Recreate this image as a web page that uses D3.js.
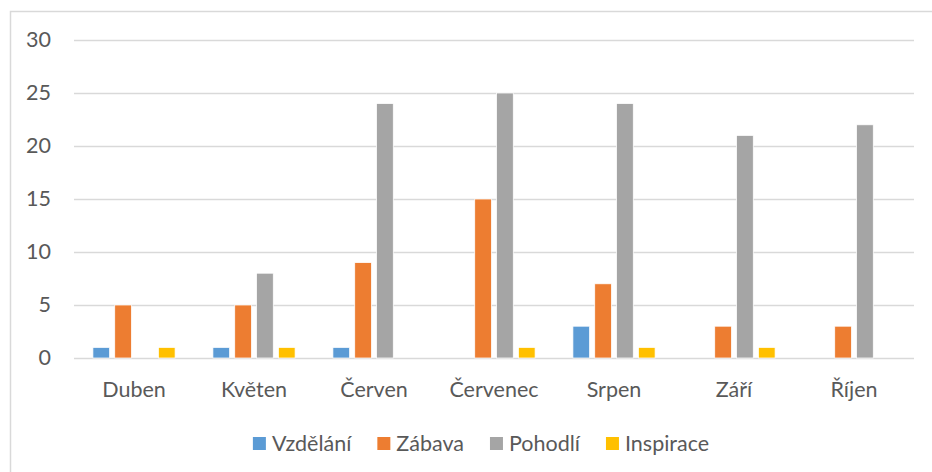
<!DOCTYPE html>
<html>
<head>
<meta charset="utf-8">
<script src="https://cdn.jsdelivr.net/npm/d3@7"></script>
<style>
  body { margin: 0; background: #fff; }
  text { font-family: Lato, "Open Sans", sans-serif; fill: #595959; }
</style>
</head>
<body>
<svg class="chart"></svg>
<script>
// chart data
var months = ['Duben', 'Květen', 'Červen', 'Červenec', 'Srpen', 'Září', 'Říjen']
var series = ['Vzdělání', 'Zábava', 'Pohodlí', 'Inspirace']
var vzdelani  = [1, 1, 1, 0, 3, 0, 0]
var zabava    = [5, 5, 9, 15, 7, 3, 3]
var pohodli   = [0, 8, 24, 25, 24, 21, 22]
var inspirace = [1, 1, 0, 1, 1, 1, 0]
var yTicks = [0, 5, 10, 15, 20, 25, 30]
var colors = ['#5B9BD5', '#ED7D31', '#A5A5A5', '#FFC000']

var values = [vzdelani, zabava, pohodli, inspirace]

var width = 932, height = 472
var margin = { top: 40, right: 18, bottom: 114, left: 74 }
var innerW = width - margin.left - margin.right
var innerH = height - margin.top - margin.bottom
var fontSize = 21.5

var svg = d3.select('.chart')
    .attr('width', width)
    .attr('height', height)

// outer frame
svg.append('rect')
    .attr('x', 10.5)
    .attr('y', 11.5)
    .attr('width', 930)
    .attr('height', 470)
    .attr('fill', 'none')
    .attr('stroke', '#d9d9d9')
    .attr('stroke-width', 1.5)

var chart = svg.append('g')
    .attr('transform', `translate(${margin.left}, ${margin.top})`)

var y = d3.scaleLinear()
    .domain([0, 30])
    .range([innerH, 0])

var x0 = d3.scaleBand()
    .domain(months)
    .range([0, innerW])

var groupW = x0.bandwidth() * 0.685
var x1 = d3.scaleBand()
    .domain(series)
    .range([(x0.bandwidth() - groupW) / 2, (x0.bandwidth() + groupW) / 2])
    .paddingInner(0.234)

// gridlines
chart.selectAll('.grid')
    .data(yTicks)
  .enter().append('line')
    .attr('x1', 0)
    .attr('x2', innerW)
    .attr('y1', function(d) { return Math.round(y(d)) + 0.5 })
    .attr('y2', function(d) { return Math.round(y(d)) + 0.5 })
    .attr('stroke', '#d9d9d9')
    .attr('stroke-width', 1.5)

// y labels
var yAxis = d3.axisLeft(y).tickValues(yTicks).tickSize(0).tickPadding(23)
chart.append('g')
    .call(yAxis)
    .call(function(g) { g.select('.domain').remove() })
    .selectAll('text')
    .attr('font-size', fontSize)
    .attr('font-family', 'Lato, "Open Sans", sans-serif')
    .attr('fill', '#595959')

// bars
var groups = chart.selectAll('.bar')
    .data(months)
  .enter().append('g')
    .attr('class', 'bar')
    .attr('transform', function(d) { return `translate(${x0(d)}, 0)` })

groups.selectAll('rect')
    .data(function(m, i) { return series.map(function(s, j) { return { s: s, v: values[j][i], c: colors[j] } }) })
  .enter().append('rect')
    .filter(function(d) { return d.v > 0 })
    .attr('x', function(d) { return x1(d.s) })
    .attr('y', function(d) { return y(d.v) })
    .attr('width', x1.bandwidth())
    .attr('height', function(d) { return y(0) - y(d.v) })
    .attr('fill', function(d) { return d.c })
    .attr('stroke', '#fff')
    .attr('stroke-width', 0.75)

// x labels
chart.selectAll('.xlabel')
    .data(months)
  .enter().append('text')
    .attr('x', function(d) { return x0(d) + x0.bandwidth() / 2 })
    .attr('y', innerH + 39)
    .attr('text-anchor', 'middle')
    .attr('font-size', fontSize)
    .text(function(d) { return d })

// legend
var legend = svg.append('g')
var lx = 0, gap = 26
series.forEach(function(s, i) {
  var item = legend.append('g').attr('transform', `translate(${lx}, 0)`)
  item.append('rect')
      .attr('x', 0).attr('y', -6)
      .attr('width', 13).attr('height', 13)
      .attr('fill', colors[i])
  var t = item.append('text')
      .attr('x', 19).attr('y', 7.5)
      .attr('font-size', fontSize)
      .text(s)
  lx += 19 + t.node().getComputedTextLength() + gap
})
var legW = lx - gap
legend.attr('transform', `translate(${481 - legW / 2}, 443)`)
</script>
</body>
</html>
